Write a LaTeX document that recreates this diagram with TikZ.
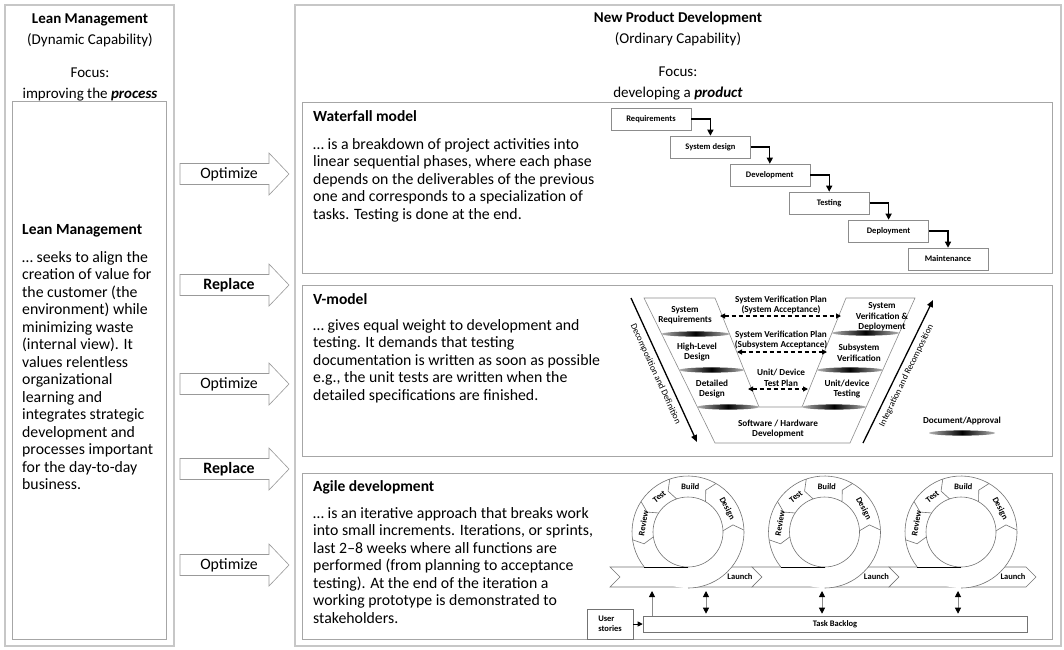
\documentclass[tikz,border=0pt]{standalone}
\usepackage{fontspec}
\setmainfont{Carlito}
\usetikzlibrary{arrows.meta,calc}
\newcommand\bodyfs{\fontsize{15.8}{17.5}\selectfont}
\newcommand\headfs{\fontsize{15}{21}\selectfont}
\newcommand\titlefs{\fontsize{15.5}{18}\selectfont\bfseries}
\newcommand\smallfs{\fontsize{8.5}{10}\selectfont\bfseries}
\newcommand\vfs{\fontsize{9.2}{10.5}\selectfont\bfseries}
\newcommand\smallrg{\fontsize{9}{10}\selectfont}
\begin{document}
\begin{tikzpicture}[x=1pt,y=-1pt,
  panel/.style={draw=black!22,line width=1.6pt},
  box/.style={draw=black!35,line width=0.9pt},
  barrow/.style={draw=black!40,line width=0.6pt,fill=white},
  body/.style={anchor=north west,inner sep=0pt,align=left,font=\bodyfs},
  ttl/.style={anchor=west,inner sep=0pt,font=\titlefs},
  head/.style={align=center,inner sep=0pt,font=\headfs},
  alabel/.style={inner sep=0pt,font=\bodyfs},
  wfbox/.style={draw=black!45,line width=0.6pt,fill=white,minimum width=80pt,minimum height=22pt,inner sep=0pt,font=\smallfs},
  wfarrow/.style={line width=1.3pt,-{Triangle[length=6pt,width=6pt]}},
  vline/.style={draw=black!45,line width=0.6pt},
  vtxt/.style={align=center,inner sep=0pt,font=\vfs},
  doc/.style={left color=black!30,right color=black!30,middle color=black},
  dasharrow/.style={line width=1.1pt,dash pattern=on 4pt off 3pt,{Triangle[length=5pt,width=5pt]}-{Triangle[length=5pt,width=5pt]}},
  diagarrow/.style={line width=1.3pt,-{Triangle[length=7pt,width=6pt]}},
  diaglabel/.style={inner sep=0pt,font=\smallrg},
  ring/.style={draw=black!55,line width=0.6pt},
  agbox/.style={draw=black!55,line width=0.6pt,fill=white,inner sep=0pt,font=\smallfs},
  varrow/.style={draw=black!45,line width=0.9pt,-{Triangle[length=6pt,width=6pt,color=black]}},
  dvarrow/.style={draw=black!45,line width=0.9pt,{Triangle[length=6pt,width=6pt,color=black]}-{Triangle[length=6pt,width=6pt,color=black]}}
]
\useasboundingbox (0,0) rectangle (1064,649);
\fill[white] (0,0) rectangle (1064,649);

% panels
\draw[panel] (5,5) rectangle (174,646);
\draw[box] (12,101) rectangle (166,639);
\draw[panel] (295,5) rectangle (1061,646);
\draw[box] (302,102) rectangle (1052,273);
\draw[box] (302,285) rectangle (1052,456);
\draw[box] (302,473) rectangle (1052,639);

% headers
\node[head] (lh) at (90,30) {\textbf{Lean Management}\\(Dynamic Capability)};
\node[head] (lf) at (90,84) {Focus:\\improving the \textbf{\textit{process}}};
\node[head] (rh) at (678,29) {\textbf{New Product Development}\\(Ordinary Capability)};
\node[head] (rf) at (678,83) {Focus:\\developing a \textbf{\textit{product}}};

% left text
\node[ttl] (lmt) at (22,231) {Lean Management};
\node[body] (lmb) at (22,251) {… seeks to align the\\creation of value for\\the customer (the\\environment) while\\minimizing waste\\(internal view). It\\values relentless\\organizational\\learning and\\integrates strategic\\development and\\processes important\\for the day-to-day\\business.};

% block arrows
\foreach \c/\t [count=\i] in {174/Optimize,285/\textbf{Replace},384/Optimize,469/\textbf{Replace},565/Optimize}{
  \draw[barrow] (180,\c-10.5) -- (269,\c-10.5) -- (269,\c-21) -- (289,\c) -- (269,\c+21) -- (269,\c+10.5) -- (180,\c+10.5) -- cycle;
  \node[alabel] (ba\i) at (229,\c) {\t};
}

% waterfall
\node[ttl] (wft) at (313,116) {Waterfall model};
\node[body] (wfb) at (313,138) {… is a breakdown of project activities into\\linear sequential phases, where each phase\\depends on the deliverables of the previous\\one and corresponds to a specialization of\\tasks. Testing is done at the end.};
\node[wfbox] (w1) at (651,119) {Requirements};
\node[wfbox] (w2) at (710.4,147) {System design};
\node[wfbox] (w3) at (769.8,175) {Development};
\node[wfbox] (w4) at (829.2,203) {Testing};
\node[wfbox] (w5) at (888.6,231) {Deployment};
\node[wfbox] (w6) at (948,259) {Maintenance};
\draw[wfarrow] (w1.east) -| (w2.north);
\draw[wfarrow] (w2.east) -| (w3.north);
\draw[wfarrow] (w3.east) -| (w4.north);
\draw[wfarrow] (w4.east) -| (w5.north);
\draw[wfarrow] (w5.east) -| (w6.north);

% V-model
\node[ttl] (vt) at (313,299) {V-model};
\node[body] (vb) at (313,319) {… gives equal weight to development and\\testing. It demands that testing\\documentation is written as soon as possible\\e.g., the unit tests are written when the\\detailed specifications are finished.};
\draw[vline] (715,298) -- (644,298) -- (715,443) -- (850,443) -- (915,298) -- (846,298) -- (802,407) -- (759,407) -- cycle;
\shade[doc] (695.5,334) ellipse[x radius=34,y radius=2.6];
\shade[doc] (711.5,370) ellipse[x radius=32.5,y radius=2.6];
\shade[doc] (728,407) ellipse[x radius=31,y radius=2.6];
\shade[doc] (865.5,333) ellipse[x radius=33.5,y radius=2.6];
\shade[doc] (850,370) ellipse[x radius=33,y radius=2.6];
\shade[doc] (834,407) ellipse[x radius=32,y radius=2.6];
\shade[doc] (962,433) ellipse[x radius=33,y radius=2.6];
\node[vtxt] (v1) at (685,315) {System\\Requirements};
\node[vtxt] (v2) at (697,352) {High-Level\\Design};
\node[vtxt] (v3) at (712,389) {Detailed\\Design};
\node[vtxt] (v4) at (778,429) {Software / Hardware\\Development};
\node[vtxt] (v5) at (882,317) {System\\Verification \&\\Deployment};
\node[vtxt] (v6) at (859,353) {Subsystem\\Verification};
\node[vtxt] (v7) at (847,389) {Unit/device\\Testing};
\node[vtxt] (p1) at (781,305) {System Verification Plan\\(System Acceptance)};
\node[vtxt] (p2) at (781,340) {System Verification Plan\\(Subsystem Acceptance)};
\node[vtxt] (p3) at (781,378) {Unit/ Device\\Test Plan};
\node[vtxt] (leg) at (962,421) {Document/Approval};
\coordinate (d1a) at (720,316); \coordinate (d1b) at (841,316);
\coordinate (d2a) at (737,352); \coordinate (d2b) at (827,352);
\coordinate (d3a) at (748,389); \coordinate (d3b) at (808,389);
\draw[dasharrow] (d1a) -- (d1b);
\draw[dasharrow] (d2a) -- (d2b);
\draw[dasharrow] (d3a) -- (d3b);
\coordinate (da) at (631,298); \coordinate (db) at (697,442);
\coordinate (ia) at (863,443); \coordinate (ib) at (933,300);
\draw[diagarrow] (da) -- (db);
\draw[diagarrow] (ia) -- (ib);
\node[diaglabel,rotate=-65.4] (dl) at (655.5,374) {Decomposition and Definition};
\node[diaglabel,rotate=63.9] (il) at (906.5,375.5) {Integration and Recomposition};

% Agile
\node[ttl] (at) at (313,487) {Agile development};
\node[body] (ab) at (313,507) {… is an iterative approach that breaks work\\into small increments. Iterations, or sprints,\\last 2–8 weeks where all functions are\\performed (from planning to acceptance\\testing). At the end of the iteration a\\working prototype is demonstrated to\\stakeholders.};
\foreach \L/\R in {610/752,752/889,889/1026}{
  \draw[ring,fill=white] (\L,567) -- (\L+10,577) -- (\L,587) -- (\R,587) -- (\R+10,577) -- (\R,567) -- cycle;
}
\foreach \cx [count=\i] in {688,824.5,961}{
  \begin{scope}[shift={(\cx,532)},yscale=-1]
    \fill[white] (0,0) circle[radius=56];
    \draw[ring] (218.6:56) arc[start angle=218.6,end angle=-90,radius=56];
    \draw[ring,fill=white] (0,0) circle[radius=35];
    \draw[black,line width=1pt] (-43.7,-35) -- (0,-35);
    \foreach \a in {188,147,109,60,2}{
      \draw[ring] (\a:56) -- (\a+7:45.5) -- (\a:35);
    }
    \node[font=\smallfs,rotate=80,inner sep=0pt] (rv\i) at (169:45.5) {Review};
    \node[font=\smallfs,rotate=38,inner sep=0pt] (ts\i) at (129:45.5) {Test};
    \node[font=\smallfs,rotate=-3,inner sep=0pt] (bd\i) at (87:45.5) {Build};
    \node[font=\smallfs,rotate=-62,inner sep=0pt] (dg\i) at (31:45.5) {Design};
  \end{scope}
  \node[font=\smallfs,inner sep=0pt] (ln\i) at (\cx+52,577) {Launch};
}
\node[agbox,minimum width=46pt,minimum height=30pt,align=left] (us) at (610,624) {User\\stories};
\node[agbox,minimum width=384pt,minimum height=16pt] (tb) at (835,624) {Task Backlog};
\draw[line width=0.9pt,-{Triangle[length=5pt,width=5pt]}] (us.east) -- (tb.west);
\coordinate (a1) at (652,591);
\coordinate (a2) at (706,591);
\coordinate (a3) at (822,591);
\coordinate (a4) at (958,591);
\draw[varrow] (a1 |- tb.north) -- (a1);
\draw[dvarrow] ($(a2 |- tb.north)+(0,-2)$) -- (a2);
\draw[dvarrow] ($(a3 |- tb.north)+(0,-2)$) -- (a3);
\draw[dvarrow] ($(a4 |- tb.north)+(0,-2)$) -- (a4);
\end{tikzpicture}
\end{document}
